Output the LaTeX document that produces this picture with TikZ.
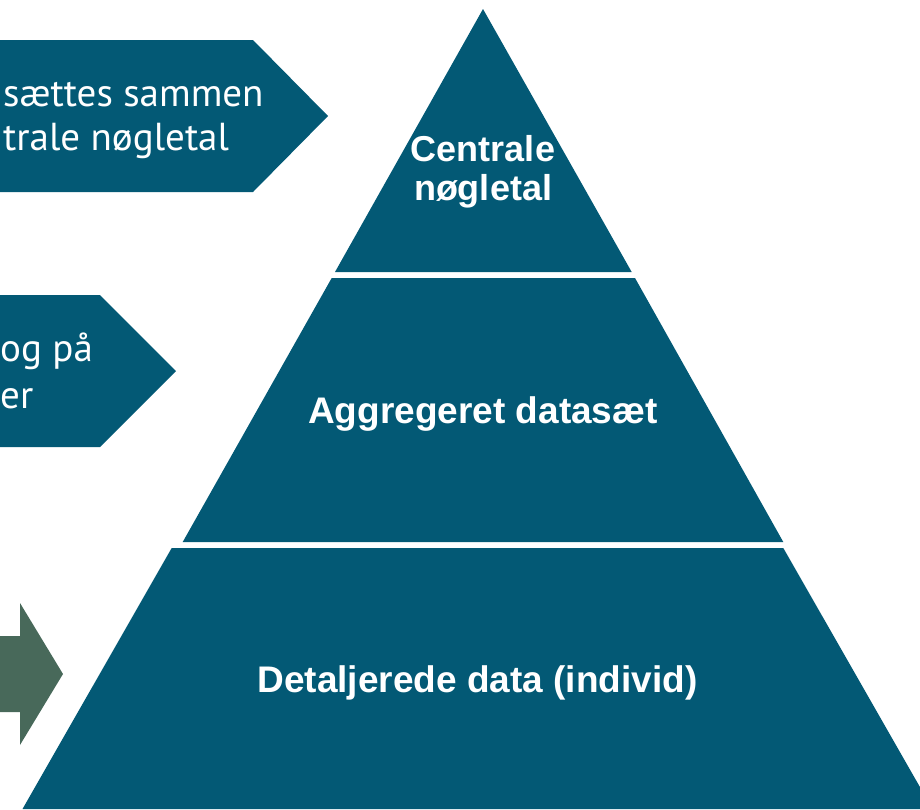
\documentclass[tikz,border=0pt]{standalone}
\usepackage{fontspec}
\setmainfont{Liberation Sans}
\newfontfamily\armfont{PT Sans}
\usepackage{tikz}
\usetikzlibrary{positioning, calc}
\definecolor{pyr-blue}{RGB}{3,89,117}
\definecolor{pyr-green}{RGB}{72,105,90}

\begin{document}
\begin{tikzpicture}[
    x=1pt, y=-1pt,
    tier/.style={fill=pyr-blue, draw=none},
    signpost/.style={fill=pyr-blue, draw=none},
    hint/.style={fill=pyr-green, draw=none},
    tiertext/.style={text=white, inner sep=0pt, anchor=base, font=\bfseries\fontsize{37}{40}\selectfont},
    armtext/.style={text=white, inner sep=0pt, anchor=base west, font=\armfont\fontsize{39}{44}\selectfont}
]
\useasboundingbox (0,0) rectangle (920,809);
\clip (0,0) rectangle (920,809);

% Pyramid
\fill[tier] (483,9) -- (631.7,272) -- (335,272) -- cycle;
\fill[tier] (331.7,278) -- (635,278) -- (783.3,542) -- (182.7,542) -- cycle;
\fill[tier] (171.7,548) -- (783.3,548) -- (932.5,809) -- (22.5,809) -- cycle;

\node[tiertext, font=\bfseries\fontsize{36}{40}\selectfont] (top-l1) at (483,161) {Centrale};
\node[tiertext, font=\bfseries\fontsize{36}{40}\selectfont] (top-l2) at (483,200) {nøgletal};
\node[tiertext] (mid-label) at (483,423) {Aggregeret datasæt};
\node[tiertext] (base-label) at (477.5,692) {Detaljerede data (individ)};

% Side arrows
\fill[signpost] (-10,40) -- (253,40) -- (328,116) -- (253,192) -- (-10,192) -- cycle;
\node[armtext] (arm1-l1) at (3,106) {sættes sammen};
\node[armtext] (arm1-l2) at (3,150) {trale nøgletal};

\fill[signpost] (-10,295) -- (100,295) -- (176,371) -- (100,447) -- (-10,447) -- cycle;
\node[armtext] (arm2-l1) at (0,361) {og på};
\node[armtext] (arm2-l2) at (0,408) {er};

\fill[hint] (-10,636) -- (20,636) -- (20,603) -- (63,674) -- (20,745) -- (20,712) -- (-10,712) -- cycle;

\end{tikzpicture}
\end{document}
